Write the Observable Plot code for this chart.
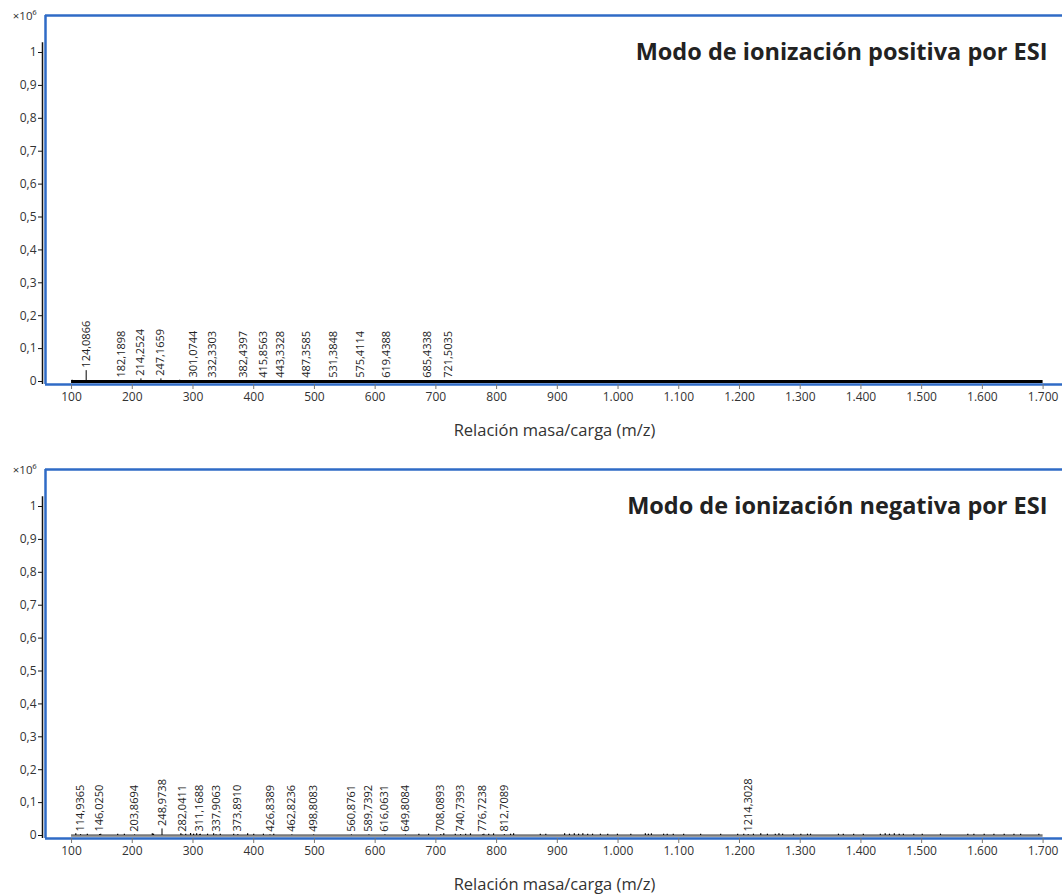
<!DOCTYPE html>
<html>
<head>
<meta charset="utf-8">
<script src="https://cdn.jsdelivr.net/npm/d3@7"></script>
<script src="https://cdn.jsdelivr.net/npm/@observablehq/plot@0.6"></script>
<style>
  html, body { margin: 0; padding: 0; background: #fff; overflow: hidden; }
  #chart svg { display: block; }
</style>
</head>
<body>
<div id="chart"></div>
<script>
// ---- Axis ticks (m/z and intensity ×10^6) ----
const xTicks = [100, 200, 300, 400, 500, 600, 700, 800, 900, 1000, 1100, 1200, 1300, 1400, 1500, 1600, 1700];
const yTicks = [0, 0.1, 0.2, 0.3, 0.4, 0.5, 0.6, 0.7, 0.8, 0.9, 1];
const scanRange = [100, 1700];

// ---- Positive ESI mode: labelled peaks (m/z) and intensities (×10^6) ----
const posMz = [124.0866, 182.1898, 214.2524, 247.1659, 301.0744, 332.3303, 382.4397, 415.8563,
               443.3328, 487.3585, 531.3848, 575.4114, 619.4388, 685.4338, 721.5035];
const posIntensity = [0.033, 0.003, 0.008, 0.008, 0.003, 0.002, 0.002, 0.002,
                      0.002, 0.002, 0.002, 0.002, 0.002, 0.002, 0.002];
const posNoiseMz = [101, 278];
const posNoiseIntensity = [0.004, 0.004];

// ---- Negative ESI mode: labelled peaks (m/z) and intensities (×10^6) ----
const negMz = [114.9365, 146.0250, 203.8694, 248.9738, 282.0411, 311.1688, 337.9063, 373.8910,
               426.8389, 462.8236, 498.8083, 560.8761, 589.7392, 616.0631, 649.8084, 708.0893,
               740.7393, 776.7238, 812.7089, 1214.3028];
const negIntensity = [0.003, 0.003, 0.002, 0.020, 0.002, 0.003, 0.002, 0.003,
                      0.002, 0.002, 0.002, 0.002, 0.002, 0.002, 0.002, 0.003,
                      0.003, 0.002, 0.003, 0.003];
const negNoiseMz = [107, 126, 148, 176, 187, 233, 235, 280, 288, 296, 301, 306, 312, 324, 334, 345,
                    367, 390, 400, 416, 433, 672, 688, 713, 732, 749, 757, 779, 787, 795, 823, 828,
                    872, 881, 912, 920, 928, 935, 942, 950, 958, 971, 983, 999, 1021, 1045, 1050,
                    1055, 1075, 1081, 1091, 1108, 1136, 1169, 1197, 1207, 1223, 1235, 1246, 1259,
                    1265, 1271, 1289, 1301, 1312, 1317, 1363, 1371, 1388, 1404, 1432, 1440, 1447,
                    1455, 1463, 1470, 1487, 1501, 1531, 1576, 1586, 1603, 1619, 1636, 1652, 1663, 1693];
const negNoiseIntensity = [0.005, 0.004, 0.004, 0.004, 0.004, 0.005, 0.004, 0.005, 0.004, 0.006, 0.004, 0.005, 0.004, 0.004, 0.005, 0.004,
                           0.004, 0.005, 0.004, 0.004, 0.004, 0.004, 0.004, 0.005, 0.004, 0.004, 0.005, 0.004, 0.004, 0.005, 0.004, 0.005,
                           0.004, 0.004, 0.005, 0.004, 0.005, 0.004, 0.005, 0.004, 0.004, 0.004, 0.004, 0.004, 0.004, 0.005, 0.004,
                           0.005, 0.004, 0.004, 0.004, 0.004, 0.004, 0.004, 0.004, 0.004, 0.004, 0.005, 0.004, 0.004,
                           0.005, 0.004, 0.004, 0.004, 0.004, 0.004, 0.004, 0.004, 0.004, 0.004, 0.004, 0.005, 0.004,
                           0.005, 0.004, 0.004, 0.004, 0.004, 0.004, 0.004, 0.004, 0.004, 0.004, 0.004, 0.004, 0.004, 0.004];

// ---- Text ----
const posTitle = "Modo de ionización positiva por ESI";
const negTitle = "Modo de ionización negativa por ESI";
const xTitle = "Relación masa/carga (m/z)";
const yUnit = "×10⁶";

// Spanish number formatting: decimal comma, thousands dot
const esLocale = d3.formatLocale({decimal: ",", thousands: ".", grouping: [3], currency: ["", " €"]});
const fmtX = esLocale.format(",d");
const fmtY = esLocale.format(".1~f");
const fmtMz = esLocale.format(".4f");

const frameBlue = "#2f6bc6";
// the plot frame runs past the right edge of the page
const xDomain = [57.1, 1740.2];
const yDomain = [-0.0091, 1.1125];
const yAxisTop = 1.03;

const zip = (xs, ys) => xs.map((mz, i) => ({mz, h: ys[i]}));

function spectrumPanel({title, peaks, noise, baselineColor, baselineWidth, height, marginBottom}) {
  return Plot.plot({
    width: 1062,
    height,
    marginLeft: 45,
    marginRight: -5,
    marginTop: 15,
    marginBottom,
    style: {fontFamily: "'Open Sans', 'Noto Sans', sans-serif", fontSize: "12px", color: "#333", background: "#fff", overflow: "hidden"},
    x: {domain: xDomain},
    y: {domain: yDomain},
    marks: [
      // blue plot frame (top, bottom, left)
      Plot.ruleY([yDomain[1]], {x1: xDomain[0], x2: xDomain[1], stroke: frameBlue, strokeWidth: 2.5}),
      Plot.ruleY([yDomain[0]], {x1: xDomain[0], x2: xDomain[1], stroke: frameBlue, strokeWidth: 2.5}),
      Plot.ruleX([xDomain[0]], {y1: yDomain[0], y2: yDomain[1], stroke: frameBlue, strokeWidth: 2.5}),
      // black intensity axis line just outside the frame
      Plot.ruleX([xDomain[0]], {y1: yDomain[0], y2: yAxisTop, stroke: "#111", strokeWidth: 1.5, dx: -3}),
      Plot.axisY({ticks: yTicks, tickFormat: fmtY, tickSize: 4, tickPadding: 2, dx: -3, stroke: "#111", fill: "#333", fontSize: 12, label: null}),
      Plot.axisX({ticks: xTicks, tickFormat: fmtX, tickSize: 5, tickPadding: 3, stroke: "#777", fill: "#333", fontSize: 12, label: null}),
      // spectrum baseline
      Plot.ruleY([0], {x1: scanRange[0], x2: scanRange[1], stroke: baselineColor, strokeWidth: baselineWidth}),
      // small unlabelled signals
      Plot.ruleX(noise, {x: "mz", y1: 0, y2: "h", stroke: "#000", strokeWidth: 1.2}),
      // labelled peaks
      Plot.ruleX(peaks, {x: "mz", y1: 0, y2: "h", stroke: "#000", strokeWidth: 1}),
      Plot.text(peaks, {x: "mz", y: "h", text: d => fmtMz(d.mz), rotate: -90, textAnchor: "start", dy: -3, fontSize: 11, fill: "#222"}),
      // panel title
      Plot.text([title], {text: d => d, frameAnchor: "top-right", dx: -20, dy: 37, textAnchor: "end", lineAnchor: "middle", fontSize: 23.5, fontWeight: "bold", fill: "#222"}),
      // intensity unit
      Plot.text([yUnit], {text: d => d, frameAnchor: "top-left", dx: -9, dy: 1, textAnchor: "end", lineAnchor: "middle", fontSize: 11.5, fill: "#333"}),
      // m/z axis title
      Plot.text([xTitle], {text: d => d, frameAnchor: "bottom", dy: 46, dx: -2, lineAnchor: "middle", fontSize: 16.5, fill: "#333"})
    ]
  });
}

const chart = document.getElementById("chart");
chart.append(spectrumPanel({
  title: posTitle,
  peaks: zip(posMz, posIntensity),
  noise: zip(posNoiseMz, posNoiseIntensity),
  baselineColor: "#000",
  baselineWidth: 3,
  height: 454,
  marginBottom: 70
}));
chart.append(spectrumPanel({
  title: negTitle,
  peaks: zip(negMz, negIntensity),
  noise: zip(negNoiseMz, negNoiseIntensity),
  baselineColor: "#7a7a7a",
  baselineWidth: 2.5,
  height: 441,
  marginBottom: 57
}));
</script>
</body>
</html>
